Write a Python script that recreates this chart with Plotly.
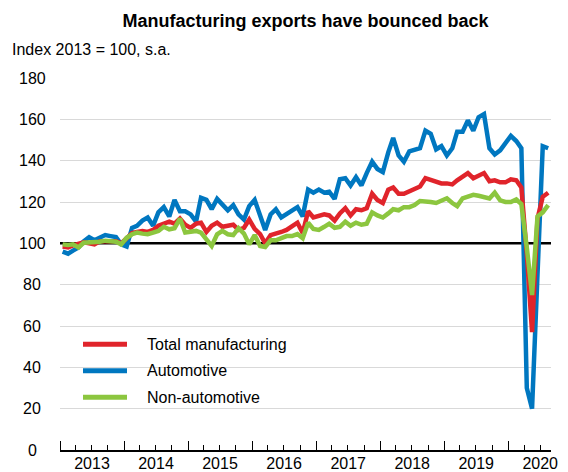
import pandas as pd
import plotly.graph_objects as go

# Monthly, Jan 2013 .. Aug 2020 (Index 2013 = 100, s.a.)
months = pd.date_range("2013-01-01", periods=92, freq="MS") + pd.Timedelta(days=15)

automotive = [
    96, 95, 96.5, 98, 101, 103, 101.5, 102.5, 104, 103.5, 103, 99.5,
    98.5, 107.5, 108.5, 111, 112.5, 108.5, 115, 117.5, 113, 121, 115.5, 115.5,
    114, 110.5, 122, 121, 116.5, 121.5, 119, 116, 118.5, 114, 111.5, 118,
    121, 114, 106.5, 114, 116.5, 112.5, 114, 116, 117.5, 113, 126, 124.5,
    126, 124.5, 125, 121.5, 131, 131.5, 128, 132, 128, 134, 139.5, 136,
    134.5, 144, 151, 142.5, 139.5, 144.5, 145, 146, 154.5, 153, 145.5, 147,
    142.5, 146, 154, 154, 159.5, 154.5, 161, 162.5, 146, 143, 145, 148.5,
    152, 149.5, 146, 30, 20, 85, 147, 146,
]

total_manufacturing = [
    98.4, 98, 99, 100, 100.5, 100, 99.5, 101, 101, 101.5, 101, 100,
    102.5, 105, 105.5, 106, 105.5, 106.5, 108.5, 109.5, 110.5, 109.5, 112, 109,
    107.5, 109.5, 110, 105.5, 108.5, 110, 108, 108.5, 109, 106.5, 107.5, 111.5,
    107, 104.5, 100, 104, 104.5, 105.5, 106.5, 108, 110, 105, 115.5, 112.5,
    113.5, 114, 113.5, 111, 114.5, 117, 113.5, 116.5, 116, 117, 124, 121,
    119.5, 126, 127, 124, 124, 125, 126.5, 127.5, 131.5, 130.5, 129.5, 129,
    129, 128.5, 130.5, 132.5, 134, 131.5, 133, 134, 130, 130.5, 129.5, 129.5,
    131, 130.5, 127, 95, 57, 112, 122.5, 124.5,
]

non_automotive = [
    99.5, 99.2, 99.5, 98, 100.3, 100.3, 100.3, 100.8, 101.3, 101.3, 100.8, 99.5,
    102.7, 104.4, 105.2, 104.7, 104.4, 105.2, 106, 108, 106.8, 107.3, 112, 105.2,
    105.5, 106, 105.2, 102, 98.7, 104.4, 106, 104.4, 104, 107.3, 104.7, 99.5,
    104, 98.7, 98.2, 101.5, 101.5, 102.5, 103.5, 103.5, 104.5, 102.5, 110, 107,
    106.5, 108, 109.5, 107.5, 108, 110.5, 108.5, 110, 109, 109.5, 115, 113.5,
    112.5, 114.5, 116.5, 116, 117.5, 117.5, 118.5, 120.5, 120.5, 120, 119.5, 120.5,
    121.8, 119.5, 118, 121.8, 122.5, 123.5, 123, 122.5, 121.7, 124.5, 120.8, 120,
    120, 121.2, 119, 98, 75, 113, 115, 118.5,
]

y_ticks = [0, 20, 40, 60, 80, 100, 120, 140, 160, 180]

series_names = ["Total manufacturing", "Automotive", "Non-automotive"]
RED = "#E0242B"
BLUE = "#0077C0"
GREEN = "#8CC63F"

FONT = "Liberation Sans, Arial, sans-serif"
LW = 4.5

# The page body has an 8px margin; lay out in screen pixels and offset.
OFF = 8
W, H = 560, 464
SL, SR, ST, SB = 60, 551, 78, 449.6   # plot area in screen pixels
L, R, T, B = SL - OFF, W - (SR - OFF), ST - OFF, H - (SB - OFF)
pw = W - L - R
ph = H - T - B

def px_x(px):
    return (px - OFF - L) / pw

def px_y(py):
    return (H - B - (py - OFF)) / ph

fig = go.Figure()
fig.add_trace(go.Scatter(x=months, y=automotive, mode="lines", name=series_names[1],
                         line=dict(color=BLUE, width=LW), showlegend=False))
fig.add_trace(go.Scatter(x=months, y=total_manufacturing, mode="lines", name=series_names[0],
                         line=dict(color=RED, width=LW), showlegend=False))
fig.add_trace(go.Scatter(x=months, y=non_automotive, mode="lines", name=series_names[2],
                         line=dict(color=GREEN, width=LW), showlegend=False))

shapes = [dict(type="line", xref="paper", yref="y", x0=0, x1=1, y0=100, y1=100,
               line=dict(color="black", width=2.5), layer="between")]

annotations = []
for v in y_ticks:
    annotations.append(dict(x=px_x(32), xref="paper", y=v, yref="y", text=str(v),
                            showarrow=False, xanchor="center", yanchor="middle",
                            font=dict(size=16, color="#000", family=FONT)))

annotations.append(dict(x=px_x(10), xref="paper", y=px_y(50), yref="paper",
                        text="Index 2013 = 100, s.a.", showarrow=False,
                        xanchor="left", yanchor="middle",
                        font=dict(size=16, color="#000", family=FONT)))

legend_colors = [RED, BLUE, GREEN]
legend_ys = [344, 370.5, 397]
for name, col, ly in zip(series_names, legend_colors, legend_ys):
    shapes.append(dict(type="line", xref="paper", yref="paper",
                       x0=px_x(83), x1=px_x(127), y0=px_y(ly), y1=px_y(ly),
                       line=dict(color=col, width=5)))
    annotations.append(dict(x=px_x(145), xref="paper", y=px_y(ly), yref="paper",
                            text=name, showarrow=False, xanchor="left", yanchor="middle",
                            font=dict(size=16, color="#000", family=FONT)))

grid_vals = [v for v in y_ticks if v not in (0, 100)]

fig.update_layout(
    width=W, height=H,
    margin=dict(l=L, r=R, t=T, b=B, pad=0, autoexpand=False),
    paper_bgcolor="white", plot_bgcolor="white",
    title=dict(text="<b>Manufacturing exports have bounced back</b>",
               x=0.5, xanchor="center", xref="paper", y=1 - (21 - OFF) / H, yanchor="middle",
               yref="container",
               font=dict(size=18, color="#000", family=FONT)),
    font=dict(family=FONT, size=16, color="#000"),
    showlegend=False,
    annotations=annotations,
    shapes=shapes,
    xaxis=dict(
        type="date",
        range=["2013-01-01", "2020-09-01"],
        dtick="M12", tick0="2013-01-01",
        tickformat="%Y", ticklabelmode="period",
        ticks="inside", ticklen=9, tickwidth=1.2, tickcolor="#000",
        minor=dict(dtick="M3", ticks="inside", ticklen=5, tickwidth=1.2, tickcolor="#000",
                   showgrid=False),
        showline=True, linecolor="#000", linewidth=1.5,
        showgrid=False, zeroline=False,
        tickfont=dict(size=16, family=FONT, color="#000"),
        ticklabelstandoff=-2,
        automargin=False,
    ),
    yaxis=dict(
        range=[0, 180], tickvals=grid_vals, showticklabels=False,
        showgrid=True, gridcolor="#D9D9D9", gridwidth=1.2,
        zeroline=False, showline=False, ticks="",
        automargin=False,
    ),
)

fig.write_html("out.html")
